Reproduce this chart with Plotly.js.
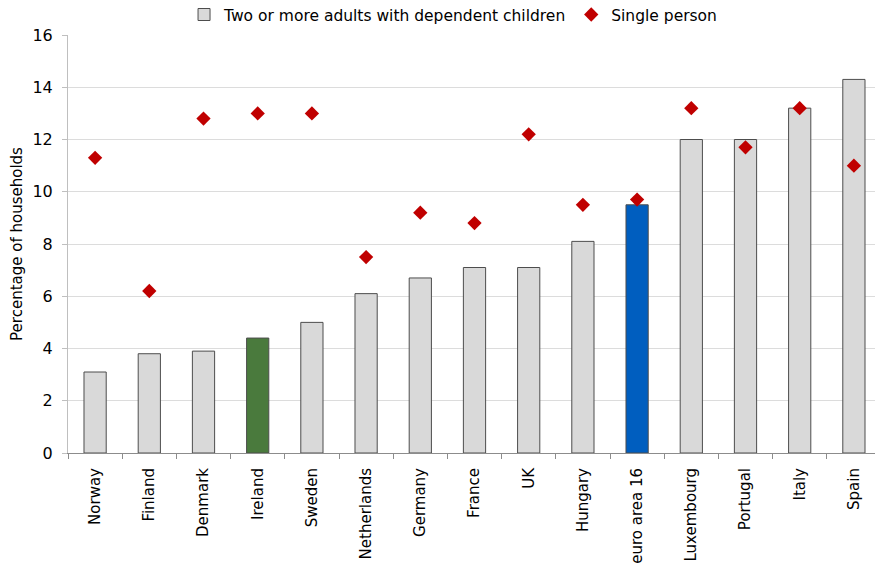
<!DOCTYPE html>
<html><head><meta charset="utf-8">
<script src="https://cdn.plot.ly/plotly-3.0.1.min.js"></script>
<style>html,body{margin:0;padding:0;overflow:hidden;background:#fff}</style>
</head><body>
<div id="chart" style="width:890px;height:573px"></div>
<script>
var countries = ["Norway","Finland","Denmark","Ireland","Sweden","Netherlands","Germany","France","UK","Hungary","euro area 16","Luxembourg","Portugal","Italy","Spain"];
var twoAdults = [3.1,3.8,3.9,4.4,5.0,6.1,6.7,7.1,7.1,8.1,9.5,12.0,12.0,13.2,14.3];
var singlePerson = [11.3,6.2,12.8,13.0,13.0,7.5,9.2,8.8,12.2,9.5,9.7,13.2,11.7,13.2,11.0];
var barColors = countries.map(function(c){
  if (c === "Ireland") return "#4a7a3d";
  if (c === "euro area 16") return "#005ebf";
  return "#d9d9d9";
});
var traces = [
  {type:"bar", x:countries, y:twoAdults, name:"Two or more adults with dependent children",
   width:0.41, marker:{color:barColors, line:{color:"#4d4d4d", width:1}}},
  {type:"scatter", mode:"markers", x:countries, y:singlePerson, name:"Single person",
   marker:{symbol:"diamond", size:11, color:"#c00000"}}
];
var layout = {
  width:890, height:573,
  margin:{l:68, r:9, t:35, b:120, autoexpand:false},
  paper_bgcolor:"#fff", plot_bgcolor:"#fff",
  font:{family:"DejaVu Sans, Verdana, sans-serif", color:"#000", size:15},
  showlegend:true,
  legend:{orientation:"h", x:0.4736, xanchor:"center", y:1.048, yanchor:"middle",
          font:{size:15.5}, itemwidth:20, traceorder:"normal"},
  xaxis:{type:"category", range:[-0.5,14.5], tickangle:-90, tickfont:{size:15},
         showline:true, linecolor:"#8c8c8c", linewidth:1,
         ticks:"outside", tickson:"boundaries", ticklen:5, tickcolor:"#8c8c8c",
         ticklabelstandoff:8, showgrid:false, automargin:false},
  yaxis:{range:[0,16], dtick:2, tickfont:{size:16},
         showline:true, linecolor:"#bfbfbf", linewidth:1,
         ticks:"outside", ticklen:5, tickcolor:"#bfbfbf", ticklabelstandoff:6,
         showgrid:true, gridcolor:"#dcdcdc", gridwidth:1, zeroline:false, automargin:false,
         title:{text:"Percentage of households", font:{size:15}, standoff:6}},
  bargap:0.59
};
Plotly.newPlot("chart", traces, layout, {displayModeBar:false, staticPlot:true});
</script>
</body></html>
